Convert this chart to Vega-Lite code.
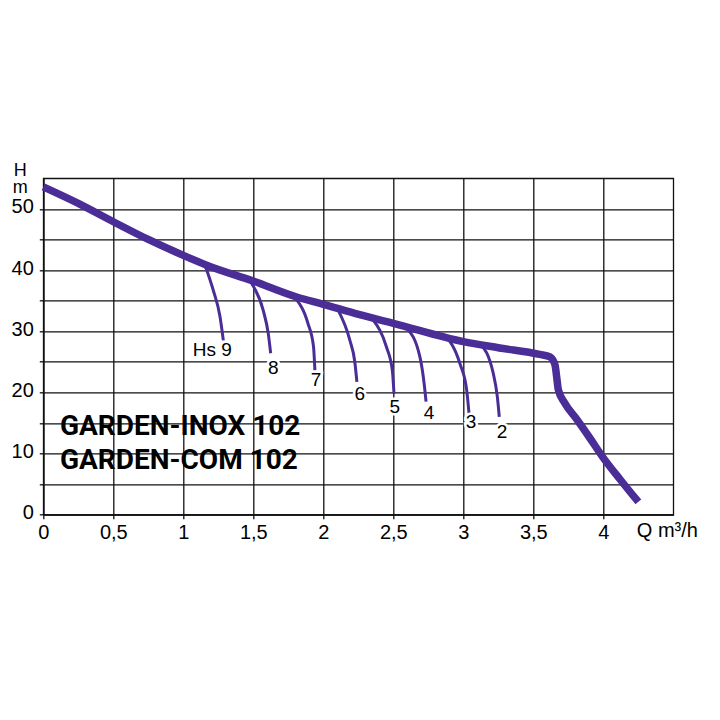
{
  "$schema": "https://vega.github.io/schema/vega-lite/v6.json",
  "autosize": "none",
  "padding": {"left": 43.3, "top": 178.3, "right": 46.7, "bottom": 205.3},
  "width": 630,
  "height": 336.4,
  "background": "white",
  "config": {
    "view": {"stroke": "#111", "strokeWidth": 1.3},
    "axis": {
      "grid": true,
      "gridColor": "#111",
      "gridWidth": 1.3,
      "gridOpacity": 1,
      "domainColor": "#111",
      "domainWidth": 1.3,
      "tickColor": "#111",
      "tickWidth": 1.3,
      "tickSize": 4,
      "labelFont": "Liberation Sans",
      "labelFontSize": 20,
      "labelColor": "#000",
      "titleFont": "Liberation Sans",
      "titleFontSize": 20,
      "titleFontWeight": "normal",
      "titleColor": "#000"
    }
  },
  "datasets": {
    "main": [
      {"q": 0, "h": 53.6},
      {"q": 0.25, "h": 50.9},
      {"q": 0.5, "h": 47.9},
      {"q": 0.75, "h": 45.0},
      {"q": 1.0, "h": 42.4},
      {"q": 1.167, "h": 40.8},
      {"q": 1.5, "h": 38.2},
      {"q": 1.81, "h": 35.6},
      {"q": 2.0, "h": 34.4},
      {"q": 2.26, "h": 32.7},
      {"q": 2.5, "h": 31.3},
      {"q": 3.0, "h": 28.3},
      {"q": 3.25, "h": 27.3},
      {"q": 3.546, "h": 26.2},
      {"q": 3.619, "h": 25.8},
      {"q": 3.655, "h": 24.5},
      {"q": 3.667, "h": 22.5},
      {"q": 3.679, "h": 20.4},
      {"q": 3.726, "h": 18.2},
      {"q": 3.81, "h": 15.6},
      {"q": 3.905, "h": 12.5},
      {"q": 4.0, "h": 9.3},
      {"q": 4.119, "h": 5.8},
      {"q": 4.25, "h": 2.1}
    ],
    "hs": [
      {"hs": 9, "q": 1.155, "h": 40.8}, {"hs": 9, "q": 1.214, "h": 36.7}, {"hs": 9, "q": 1.262, "h": 32.4}, {"hs": 9, "q": 1.286, "h": 28.5},
      {"hs": 8, "q": 1.488, "h": 37.8}, {"hs": 8, "q": 1.571, "h": 33.4}, {"hs": 8, "q": 1.607, "h": 29.6}, {"hs": 8, "q": 1.624, "h": 26.4},
      {"hs": 7, "q": 1.80, "h": 35.4}, {"hs": 7, "q": 1.89, "h": 31.3}, {"hs": 7, "q": 1.93, "h": 27.5}, {"hs": 7, "q": 1.94, "h": 23.6},
      {"hs": 6, "q": 2.107, "h": 33.4}, {"hs": 6, "q": 2.19, "h": 28.5}, {"hs": 6, "q": 2.225, "h": 25.0}, {"hs": 6, "q": 2.24, "h": 21.7},
      {"hs": 5, "q": 2.357, "h": 31.8}, {"hs": 5, "q": 2.45, "h": 27.5}, {"hs": 5, "q": 2.493, "h": 23.6}, {"hs": 5, "q": 2.505, "h": 19.8},
      {"hs": 4, "q": 2.596, "h": 30.5}, {"hs": 4, "q": 2.69, "h": 25.8}, {"hs": 4, "q": 2.72, "h": 21.5}, {"hs": 4, "q": 2.734, "h": 18.5},
      {"hs": 3, "q": 2.869, "h": 29.4}, {"hs": 3, "q": 2.976, "h": 24.7}, {"hs": 3, "q": 3.024, "h": 20.4}, {"hs": 3, "q": 3.043, "h": 16.0},
      {"hs": 2, "q": 3.12, "h": 28.0}, {"hs": 2, "q": 3.214, "h": 23.1}, {"hs": 2, "q": 3.243, "h": 19.3}, {"hs": 2, "q": 3.257, "h": 16.0}
    ],
    "hsLabels": [
      {"label": "Hs 9", "q": 1.207, "h": 26.9},
      {"label": "8", "q": 1.643, "h": 24.0},
      {"label": "7", "q": 1.948, "h": 22.0},
      {"label": "6", "q": 2.26, "h": 19.7},
      {"label": "5", "q": 2.51, "h": 17.6},
      {"label": "4", "q": 2.755, "h": 16.6},
      {"label": "3", "q": 3.055, "h": 15.1},
      {"label": "2", "q": 3.276, "h": 13.5}
    ],
    "models": [
      {"label": "GARDEN-INOX 102", "q": 0.119, "h": 13.0},
      {"label": "GARDEN-COM 102", "q": 0.119, "h": 7.47}
    ]
  },
  "encoding": {
    "x": {
      "field": "q",
      "type": "quantitative",
      "scale": {"domain": [0, 4.5], "nice": false, "zero": false},
      "axis": {
        "values": [0, 0.5, 1, 1.5, 2, 2.5, 3, 3.5, 4],
        "labelExpr": "replace(format(datum.value, '~g'), '.', ',')",
        "labelPadding": 4,
        "labelFlush": false,
        "title": "Q m³/h",
        "titleAngle": 0,
        "titleAlign": "left",
        "titleBaseline": "alphabetic",
        "titleX": 593,
        "titleY": 22
      }
    },
    "y": {
      "field": "h",
      "type": "quantitative",
      "scale": {"domain": [0, 55], "nice": false, "zero": false},
      "axis": {
        "values": [0, 5, 10, 15, 20, 25, 30, 35, 40, 45, 50],
        "labelExpr": "datum.value % 10 == 0 ? datum.label : ''",
        "labelPadding": 6,
        "labelOffset": -2,
        "labelFlush": false,
        "title": ["H", "m"],
        "titleAngle": 0,
        "titleAlign": "center",
        "titleBaseline": "alphabetic",
        "titleFontSize": 18,
        "titleLineHeight": 17,
        "titleX": -23.5,
        "titleY": -2.5
      }
    }
  },
  "layer": [
    {
      "mark": {"type": "rect", "color": "white"},
      "encoding": {
        "x": {"datum": 0.077},
        "x2": {"datum": 1.83},
        "y": {"datum": 6.1},
        "y2": {"datum": 18.7}
      }
    },
    {
      "data": {"name": "hs"},
      "mark": {"type": "line", "interpolate": "monotone", "color": "#4a2d96", "strokeWidth": 3},
      "encoding": {"detail": {"field": "hs"}}
    },
    {
      "data": {"name": "main"},
      "mark": {"type": "line", "interpolate": "monotone", "color": "#4a2d96", "strokeWidth": 7.5}
    },
    {
      "data": {"name": "hsLabels"},
      "mark": {"type": "text", "font": "Liberation Sans", "fontSize": 19, "align": "center", "baseline": "middle", "stroke": "white", "strokeWidth": 5, "fill": "white"},
      "encoding": {"text": {"field": "label"}}
    },
    {
      "data": {"name": "hsLabels"},
      "mark": {"type": "text", "font": "Liberation Sans", "fontSize": 19, "align": "center", "baseline": "middle", "color": "#000"},
      "encoding": {"text": {"field": "label"}}
    },
    {
      "data": {"name": "models"},
      "mark": {"type": "text", "font": "Roboto", "fontSize": 28, "fontWeight": "bold", "align": "left", "baseline": "alphabetic", "color": "#000"},
      "encoding": {"text": {"field": "label"}}
    }
  ]
}
